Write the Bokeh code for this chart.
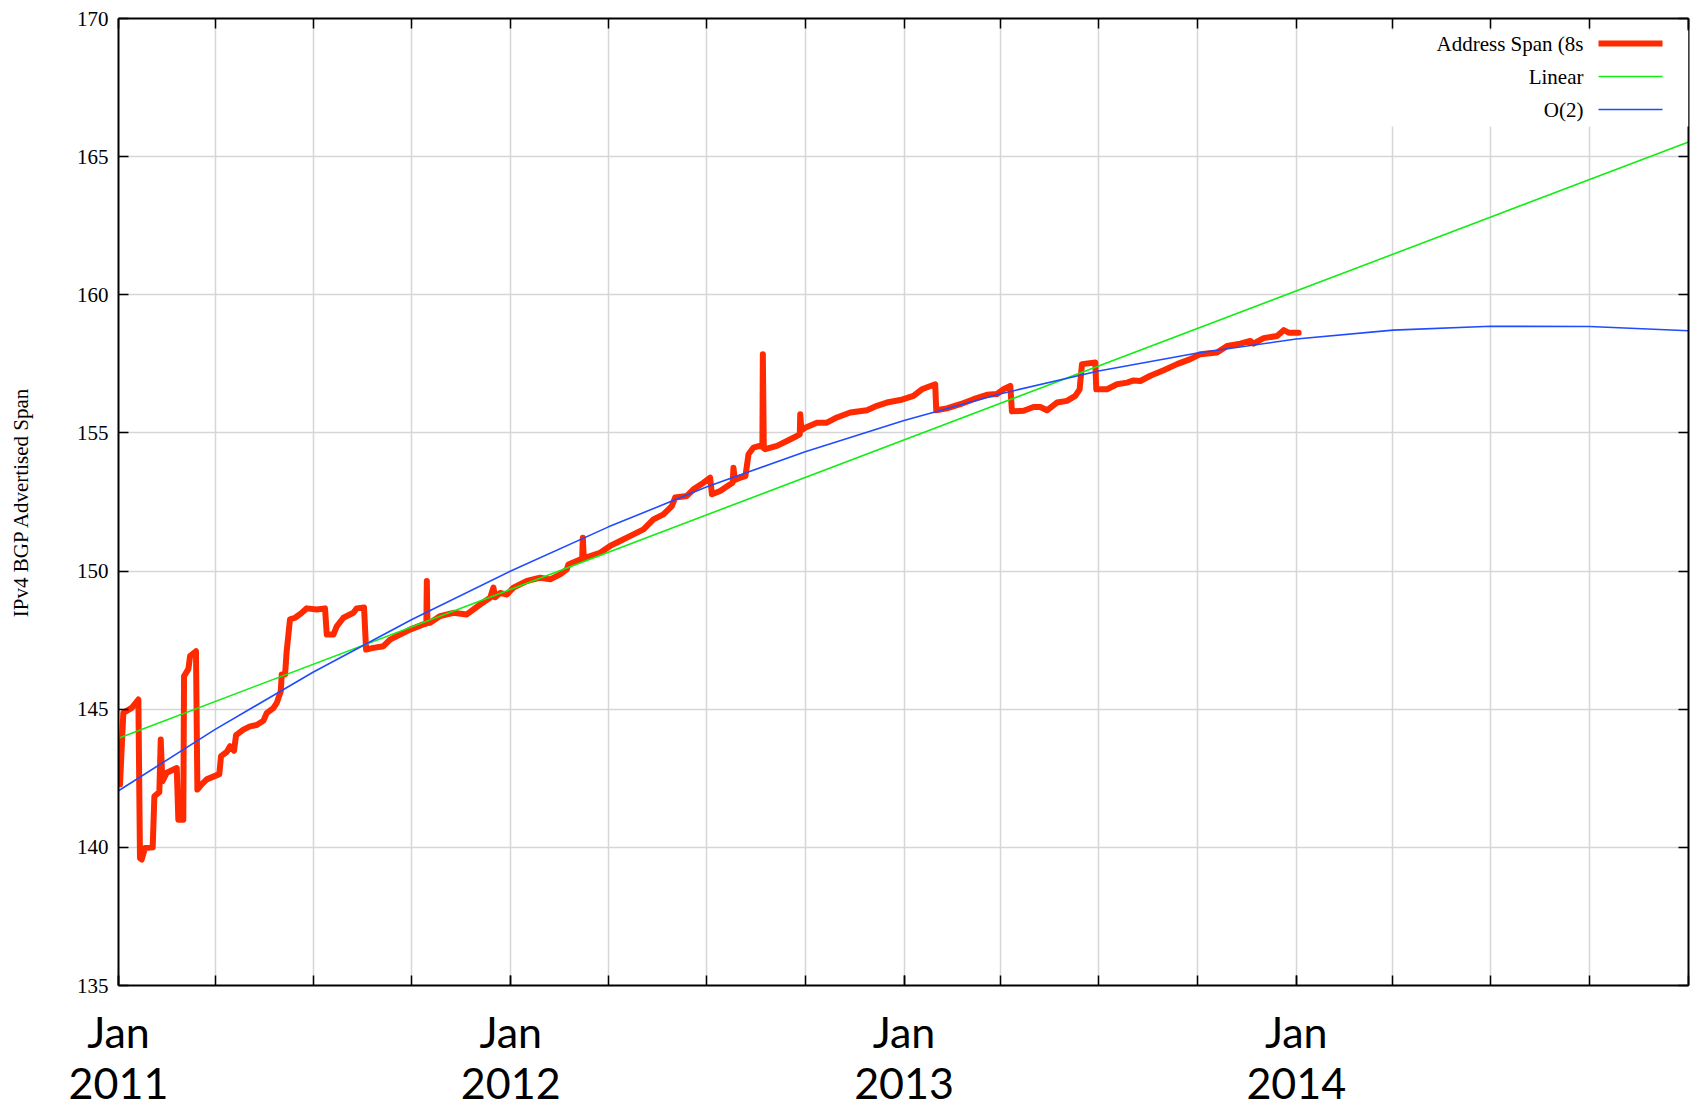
import pandas as pd
from bokeh.plotting import figure
from bokeh.models import (FixedTicker, LinearAxis, Label, BoxAnnotation, PolyAnnotation,
                          Range1d)
from bokeh.embed import file_html
from bokeh.resources import INLINE

# ---------------- data (x = days since 2011-01-01) ----------------
span_days = [1.4, 4.5, 12.3, 18.5, 20, 21.6, 24.7, 31.8, 33.4, 38, 39.3, 40.8, 44.9, 54.2,
             55.7, 60.3, 61, 65, 66.6, 72.1, 73.4, 77.4, 82.1, 93.8, 95.4, 100.7, 103.8,
             107.5, 109.4, 116.2, 122.4, 128.6, 134.8, 137.9, 144.1, 147.3, 151, 151.9,
             155, 156.5, 159.6, 164.3, 170.5, 175.2, 184.5, 192.2, 193.8, 200, 203.1,
             209.3, 218.6, 221.7, 228.5, 230.4, 237.2, 246.5, 252.7, 262, 271.3,
             283.7, 286.5, 286.9, 287.5, 290, 299.3, 311.6, 324.1, 336.5, 345.8, 348.9,
             350.5, 355.1, 361.4, 367.5, 380, 392.4, 401.7, 411, 417.2, 418.7, 429.6,
             431.5, 432.1, 433, 439, 448.2, 457.5, 466.8, 479.2, 488.5, 497.8, 507.1,
             514.9, 518, 528.9, 535, 544.4, 550.6, 552.2,
             559.9, 569.2, 571.5, 572.3, 573.5, 578.7, 583.4, 586.3, 590.9, 596.5, 599.2,
             599.6, 600.5, 601.8, 612.7, 622, 631.3, 634, 634.4, 635.5, 639, 649.9, 659.2,
             668.5, 680.9, 696.5, 705.8, 715, 727.5, 739.8, 747.6, 760, 761, 770.9, 783.3,
             795.7, 808.2, 817.5, 823.6, 829.9, 831.4,
             842.2, 851.5, 857.8, 864, 873.3, 882.6, 890.4, 894.4, 896.6, 909, 909.9,
             919.9, 929.2, 938.5, 944.6, 950.9, 960.2, 972.6, 985, 997.4, 1006.7, 1022.3,
             1031.6, 1043.9, 1053.2, 1056.3, 1065.6, 1078.1, 1084.3, 1088.9, 1098.2]
span_vals = [142.28, 144.87, 145.05, 145.35, 139.61, 139.56, 139.98, 140.0, 141.85, 142.0,
             143.9, 142.39, 142.7, 142.87, 141.0, 141.0, 146.2, 146.45, 146.92, 147.1,
             142.09, 142.28, 142.46, 142.65, 143.3, 143.45, 143.66, 143.5, 144.06, 144.26,
             144.38, 144.43, 144.58, 144.86, 145.04, 145.23, 145.65, 146.26, 146.26, 147.1,
             148.25, 148.31, 148.49, 148.65, 148.61, 148.65, 147.7, 147.7, 148.0, 148.31,
             148.49, 148.65, 148.68, 147.16, 147.22, 147.28, 147.52, 147.7, 147.88,
             148.07, 148.1, 149.64, 148.12, 148.13, 148.37, 148.49, 148.43, 148.79, 149.03,
             149.4, 149.05, 149.21, 149.15, 149.4, 149.64, 149.76, 149.7, 149.88, 150.06,
             150.24, 150.42, 150.45, 151.21, 150.45, 150.54, 150.66, 150.91, 151.09,
             151.33, 151.51, 151.87, 152.05, 152.35, 152.66, 152.72, 152.96, 153.2,
             153.38, 152.78,
             152.9, 153.14, 153.2, 153.74, 153.3, 153.38, 153.44, 154.23, 154.47, 154.53,
             154.5, 157.85, 154.45, 154.41, 154.53, 154.71, 154.89, 154.95, 155.68, 155.1,
             155.19, 155.37, 155.37, 155.56, 155.74, 155.82, 155.98, 156.1, 156.19, 156.34,
             156.58, 156.76, 155.82, 155.89, 156.04, 156.22, 156.38, 156.41, 156.58, 156.7,
             155.78,
             155.8, 155.94, 155.94, 155.82, 156.1, 156.16, 156.34, 156.58, 157.49, 157.55,
             156.58, 156.58, 156.76, 156.82, 156.9, 156.88, 157.07, 157.27, 157.49, 157.67,
             157.85, 157.91, 158.15, 158.23, 158.33, 158.23, 158.43, 158.51, 158.72, 158.63,
             158.63]

linear_days = [0, 1461]
linear_vals = [143.95, 165.53]

quad_dates = pd.date_range("2011-01-01", "2015-01-01", freq="QS")
quad_vals = [142.05, 144.27, 146.34, 148.25, 150.0, 151.6, 153.04, 154.32, 155.45,
             156.42, 157.24, 157.89, 158.4, 158.72, 158.86, 158.85, 158.7]

y_ticks = [135, 140, 145, 150, 155, 160, 165, 170]
label_years = [2011, 2012, 2013, 2014]
series_names = ["Address Span (8s", "Linear", "O(2)"]
y_title = "IPv4 BGP Advertised Span"

# ---------------- derived ----------------
epoch = pd.Timestamp("2011-01-01")
quarter_days = [(d - epoch).days for d in quad_dates]
jan_days = [(pd.Timestamp(f"{y}-01-01") - epoch).days for y in label_years]
x_overrides = {d: f"Jan\n{y}" for d, y in zip(jan_days, label_years)}

RED, GREEN, BLUE = "#ff2a00", "#11ee11", "#1f4cff"
SERIF = "Liberation Serif"
FW, FH = 1570, 967

p = figure(frame_width=FW, frame_height=FH, output_backend="svg", toolbar_location=None,
           x_range=Range1d(0, quarter_days[-1]), y_range=Range1d(135, 170),
           min_border_left=118, min_border_right=12, min_border_top=18,
           min_border_bottom=100, background_fill_color="white",
           border_fill_color="white")
p.outline_line_color = None

# bottom axis: labelled ticks at January, quarterly ticks as minor ticks
xa = p.xaxis[0]
xa.ticker = FixedTicker(ticks=jan_days, minor_ticks=quarter_days)
xa.major_label_overrides = x_overrides
xa.major_label_text_font = "Lato"
xa.major_label_text_font_size = "43px"
xa.major_label_text_line_height = 1.0
xa.major_label_text_color = "black"
xa.major_label_standoff = 20
xa.major_tick_in = 10
xa.major_tick_out = 0
xa.major_tick_line_width = 1.5
xa.minor_tick_in = 10
xa.minor_tick_out = 0
xa.minor_tick_line_width = 1.5
xa.minor_tick_line_color = "black"
xa.axis_line_width = 2

# left axis
ya = p.yaxis[0]
ya.ticker = FixedTicker(ticks=y_ticks, minor_ticks=[])
ya.major_label_text_font = SERIF
ya.major_label_text_font_size = "21px"
ya.major_label_text_color = "black"
ya.major_label_standoff = 10
ya.major_tick_in = 10
ya.major_tick_out = 0
ya.major_tick_line_width = 1.5
ya.axis_line_width = 2
ya.minor_tick_line_color = None
ya.axis_label = y_title
ya.axis_label_text_font = SERIF
ya.axis_label_text_font_size = "21px"
ya.axis_label_text_font_style = "normal"
ya.axis_label_text_color = "black"
ya.axis_label_standoff = 41

# mirrored axes: ticks only (as minor ticks, so no labels are drawn)
for loc, tks in (("above", quarter_days), ("right", y_ticks)):
    ax = LinearAxis(ticker=FixedTicker(ticks=[], minor_ticks=tks),
                    major_label_standoff=0, axis_label_standoff=0,
                    minor_tick_in=10, minor_tick_out=0, minor_tick_line_width=1.5,
                    minor_tick_line_color="black", major_tick_out=0, major_tick_in=0,
                    axis_line_width=2)
    p.add_layout(ax, loc)

p.xgrid.ticker = FixedTicker(ticks=quarter_days, minor_ticks=[])
p.ygrid.ticker = FixedTicker(ticks=y_ticks, minor_ticks=[])
for g in (p.xgrid[0], p.ygrid[0]):
    g.grid_line_color = "#d6d6d6"
    g.grid_line_width = 1.5

p.line(span_days, span_vals, line_color=RED, line_width=6,
       line_join="round", line_cap="round")
p.line(linear_days, linear_vals, line_color=GREEN, line_width=1.6)
p.line(quarter_days, quad_vals, line_color=BLUE, line_width=1.6)

# key (gnuplot style: label on the left, sample on the right), screen units
p.add_layout(BoxAnnotation(left=1262, right=FW, bottom=859, top=955,
                           left_units="screen", right_units="screen",
                           bottom_units="screen", top_units="screen",
                           fill_color="white", fill_alpha=1.0, line_color=None))
for name, yy, col, lw in zip(series_names, (942, 909, 876), (RED, GREEN, BLUE), (6, 1.6, 1.6)):
    p.add_layout(Label(x=1465, y=yy, x_units="screen", y_units="screen", text=name,
                       text_align="right", text_baseline="middle", text_font=SERIF,
                       text_font_size="21px", text_color="black"))
    p.add_layout(PolyAnnotation(xs=[1480, 1544], ys=[yy, yy], xs_units="screen",
                                ys_units="screen", line_color=col, line_width=lw,
                                line_alpha=1.0, fill_alpha=0))

open("out.html", "w").write(file_html(p, INLINE))
